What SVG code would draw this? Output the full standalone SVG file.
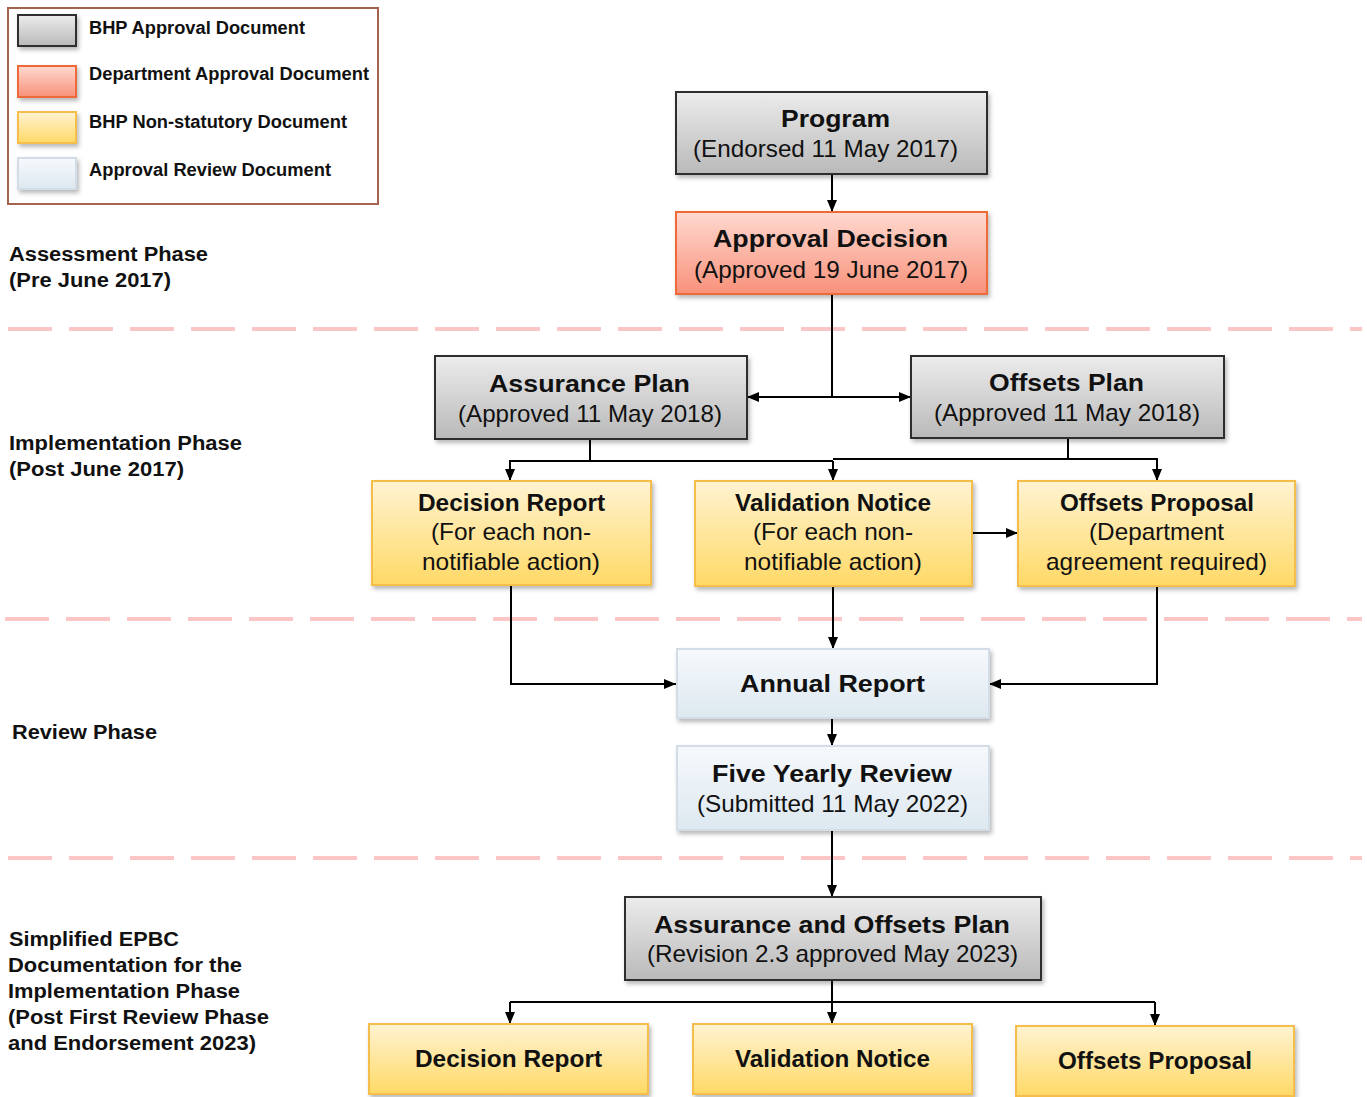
<svg xmlns="http://www.w3.org/2000/svg" width="1367" height="1097" viewBox="0 0 1367 1097">
<defs>
<linearGradient id="gGray" x1="0" y1="0" x2="0" y2="1"><stop offset="0" stop-color="#ececec"/><stop offset="1" stop-color="#b9b9b9"/></linearGradient>
<linearGradient id="gRed" x1="0" y1="0" x2="0" y2="1"><stop offset="0" stop-color="#ffd9d0"/><stop offset="1" stop-color="#f8917a"/></linearGradient>
<linearGradient id="gYel" x1="0" y1="0" x2="0" y2="1"><stop offset="0" stop-color="#fff3d2"/><stop offset="1" stop-color="#ffd966"/></linearGradient>
<linearGradient id="gBlue" x1="0" y1="0" x2="0" y2="1"><stop offset="0" stop-color="#f6f9fc"/><stop offset="1" stop-color="#dde8f0"/></linearGradient>
<filter id="sh" x="-10%" y="-10%" width="130%" height="140%"><feDropShadow dx="2" dy="3" stdDeviation="2" flood-color="#000" flood-opacity="0.28"/></filter>
<marker id="ah" viewBox="0 0 12 10" refX="12" refY="5" markerWidth="12" markerHeight="10" markerUnits="userSpaceOnUse" orient="auto"><path d="M0,0 L12,5 L0,10 z" fill="#000"/></marker>
</defs>
<style>
.gray{fill:url(#gGray);stroke:#2e2e2e;stroke-width:2;filter:url(#sh)}
.red{fill:url(#gRed);stroke:#ee6a38;stroke-width:2;filter:url(#sh)}
.yel{fill:url(#gYel);stroke:#f5bd48;stroke-width:2;filter:url(#sh)}
.blue{fill:url(#gBlue);stroke:#d2dde7;stroke-width:2;filter:url(#sh)}
text{font-family:"Liberation Sans",Arial,sans-serif;fill:#111}
.t{font-size:24px;font-weight:bold;text-anchor:middle}
.s{font-size:24px;text-anchor:middle}
.lg{font-size:18px;font-weight:bold}
.ph{font-size:20px;font-weight:bold}
.c{fill:none;stroke:#000;stroke-width:2}
.ca{fill:none;stroke:#000;stroke-width:2;marker-end:url(#ah)}
.dash{stroke:#fcc6c6;stroke-width:4;stroke-dasharray:44 17}
</style>
<rect width="1367" height="1097" fill="#fff"/>

<g id="legend">
<rect x="8" y="8" width="370" height="196" fill="#fff" stroke="#a5634f" stroke-width="2"/>
<rect class="gray" x="18" y="15" width="58" height="31"/>
<rect class="red" x="18" y="66" width="58" height="31"/>
<rect class="yel" x="18" y="112" width="58" height="31"/>
<rect class="blue" x="18" y="158" width="58" height="31"/>
<text class="lg" x="89" y="34" textLength="216" lengthAdjust="spacingAndGlyphs">BHP Approval Document</text>
<text class="lg" x="89" y="80" textLength="280" lengthAdjust="spacingAndGlyphs">Department Approval Document</text>
<text class="lg" x="89" y="128" textLength="258" lengthAdjust="spacingAndGlyphs">BHP Non-statutory Document</text>
<text class="lg" x="89" y="176" textLength="242" lengthAdjust="spacingAndGlyphs">Approval Review Document</text>
</g>

<g id="phases">
<line class="dash" x1="8" y1="329" x2="1362" y2="329"/>
<line class="dash" x1="5" y1="619" x2="1362" y2="619"/>
<line class="dash" x1="8" y1="858" x2="1362" y2="858"/>
<text class="ph" x="9" y="261" textLength="199" lengthAdjust="spacingAndGlyphs">Assessment Phase</text>
<text class="ph" x="9" y="287" textLength="162" lengthAdjust="spacingAndGlyphs">(Pre June 2017)</text>
<text class="ph" x="9" y="450" textLength="233" lengthAdjust="spacingAndGlyphs">Implementation Phase</text>
<text class="ph" x="9" y="476" textLength="175" lengthAdjust="spacingAndGlyphs">(Post June 2017)</text>
<text class="ph" x="12" y="739" textLength="145" lengthAdjust="spacingAndGlyphs">Review Phase</text>
<text class="ph" x="9" y="946" textLength="170" lengthAdjust="spacingAndGlyphs">Simplified EPBC</text>
<text class="ph" x="8" y="972" textLength="234" lengthAdjust="spacingAndGlyphs">Documentation for the</text>
<text class="ph" x="8" y="998" textLength="232" lengthAdjust="spacingAndGlyphs">Implementation Phase</text>
<text class="ph" x="8" y="1024" textLength="261" lengthAdjust="spacingAndGlyphs">(Post First Review Phase</text>
<text class="ph" x="8" y="1050" textLength="248" lengthAdjust="spacingAndGlyphs">and Endorsement 2023)</text>
</g>

<g id="connectors">
<path class="ca" d="M832,174 V212"/>
<path class="c" d="M832,294 V397"/>
<path class="ca" d="M832,397 H747"/>
<path class="ca" d="M832,397 H911"/>
<path class="c" d="M590,439 V461 H833"/>
<path class="ca" d="M511,461 H510 V481"/>
<path class="ca" d="M833,461 V481"/>
<path class="c" d="M1068,438 V459 H833"/>
<path class="ca" d="M1068,459 H1157 V481"/>
<path class="c" d="M511,461 H590"/>
<path class="ca" d="M972,533 H1018"/>
<path class="ca" d="M511,585 V684 H676"/>
<path class="ca" d="M833,586 V649"/>
<path class="ca" d="M1157,586 V684 H989"/>
<path class="ca" d="M832,718 V746"/>
<path class="ca" d="M832,830 V897"/>
<path class="ca" d="M832,980 V1024"/>
<path class="c" d="M510,1002 H1155"/>
<path class="ca" d="M510,1002 V1024"/>
<path class="ca" d="M1155,1002 V1026"/>
</g>

<g id="program">
<rect class="gray" x="676" y="92" width="311" height="82"/>
<text class="t" x="835.5" y="127" textLength="109" lengthAdjust="spacingAndGlyphs">Program</text>
<text class="s" x="825.5" y="157" textLength="265" lengthAdjust="spacingAndGlyphs">(Endorsed 11 May 2017)</text>
</g>
<g id="approval">
<rect class="red" x="676" y="212" width="311" height="82"/>
<text class="t" x="830.5" y="247" textLength="235" lengthAdjust="spacingAndGlyphs">Approval Decision</text>
<text class="s" x="831" y="278" textLength="274" lengthAdjust="spacingAndGlyphs">(Approved 19 June 2017)</text>
</g>
<g id="assurance">
<rect class="gray" x="435" y="356" width="312" height="83"/>
<text class="t" x="589.5" y="392" textLength="201" lengthAdjust="spacingAndGlyphs">Assurance Plan</text>
<text class="s" x="590" y="422" textLength="264" lengthAdjust="spacingAndGlyphs">(Approved 11 May 2018)</text>
</g>
<g id="offsetsplan">
<rect class="gray" x="911" y="356" width="313" height="82"/>
<text class="t" x="1066.5" y="391" textLength="155" lengthAdjust="spacingAndGlyphs">Offsets Plan</text>
<text class="s" x="1067" y="421" textLength="266" lengthAdjust="spacingAndGlyphs">(Approved 11 May 2018)</text>
</g>
<g id="decision1">
<rect class="yel" x="372" y="481" width="279" height="104"/>
<text class="t" x="511.5" y="511" textLength="187" lengthAdjust="spacingAndGlyphs">Decision Report</text>
<text class="s" x="511" y="540" textLength="160" lengthAdjust="spacingAndGlyphs">(For each non-</text>
<text class="s" x="511" y="570" textLength="178" lengthAdjust="spacingAndGlyphs">notifiable action)</text>
</g>
<g id="validation1">
<rect class="yel" x="695" y="481" width="277" height="105"/>
<text class="t" x="833" y="511" textLength="196" lengthAdjust="spacingAndGlyphs">Validation Notice</text>
<text class="s" x="833" y="540" textLength="160" lengthAdjust="spacingAndGlyphs">(For each non-</text>
<text class="s" x="833" y="570" textLength="178" lengthAdjust="spacingAndGlyphs">notifiable action)</text>
</g>
<g id="offsetsproposal1">
<rect class="yel" x="1018" y="481" width="277" height="105"/>
<text class="t" x="1157" y="511" textLength="194" lengthAdjust="spacingAndGlyphs">Offsets Proposal</text>
<text class="s" x="1156.5" y="540" textLength="135" lengthAdjust="spacingAndGlyphs">(Department</text>
<text class="s" x="1156.5" y="570" textLength="221" lengthAdjust="spacingAndGlyphs">agreement required)</text>
</g>
<g id="annual">
<rect class="blue" x="677" y="649" width="312" height="69"/>
<text class="t" x="832.5" y="692" textLength="185" lengthAdjust="spacingAndGlyphs">Annual Report</text>
</g>
<g id="fiveyearly">
<rect class="blue" x="677" y="746" width="312" height="84"/>
<text class="t" x="832" y="782" textLength="240" lengthAdjust="spacingAndGlyphs">Five Yearly Review</text>
<text class="s" x="832.5" y="812" textLength="271" lengthAdjust="spacingAndGlyphs">(Submitted 11 May 2022)</text>
</g>
<g id="aoplan">
<rect class="gray" x="625" y="897" width="416" height="83"/>
<text class="t" x="832" y="933" textLength="356" lengthAdjust="spacingAndGlyphs">Assurance and Offsets Plan</text>
<text class="s" x="832.5" y="962" textLength="371" lengthAdjust="spacingAndGlyphs">(Revision 2.3 approved May 2023)</text>
</g>
<g id="decision2">
<rect class="yel" x="369" y="1024" width="279" height="70"/>
<text class="t" x="508.5" y="1067" textLength="187" lengthAdjust="spacingAndGlyphs">Decision Report</text>
</g>
<g id="validation2">
<rect class="yel" x="693" y="1024" width="279" height="70"/>
<text class="t" x="832.5" y="1067" textLength="195" lengthAdjust="spacingAndGlyphs">Validation Notice</text>
</g>
<g id="offsetsproposal2">
<rect class="yel" x="1016" y="1026" width="278" height="70"/>
<text class="t" x="1155" y="1069" textLength="194" lengthAdjust="spacingAndGlyphs">Offsets Proposal</text>
</g>
</svg>
